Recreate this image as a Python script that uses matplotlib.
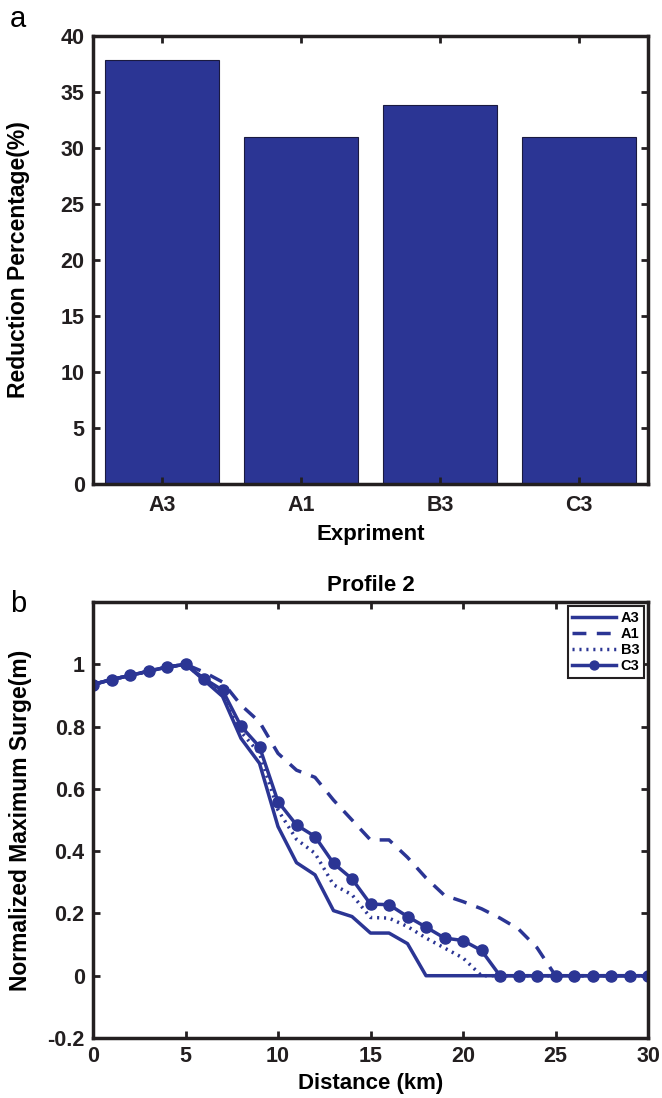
import matplotlib
matplotlib.use("Agg")
import matplotlib.pyplot as plt

plt.rcParams['font.family'] = ['Liberation Sans', 'DejaVu Sans']
plt.rcParams['font.weight'] = 'bold'
plt.rcParams['axes.labelweight'] = 'bold'
plt.rcParams['axes.titleweight'] = 'bold'

# bar chart data
experiments = ['A3', 'A1', 'B3', 'C3']
reduction = [37.9, 31.0, 33.8, 31.0]

# profile data
distance = list(range(0, 31))
a3 = [0.935, 0.951, 0.964, 0.978, 0.991, 1.0, 0.949, 0.897, 0.762, 0.682, 0.479,
      0.363, 0.324, 0.209, 0.19, 0.137, 0.137, 0.103, 0, 0, 0,
      0, 0, 0, 0, 0, 0, 0, 0, 0, 0]
a1 = [0.935, 0.951, 0.964, 0.978, 0.991, 1.0, 0.975, 0.943, 0.869, 0.815, 0.714,
      0.66, 0.637, 0.564, 0.5, 0.436, 0.436, 0.38, 0.314, 0.258, 0.238,
      0.215, 0.185, 0.15, 0.09, 0, 0, 0, 0, 0, 0]
b3 = [0.935, 0.951, 0.964, 0.978, 0.991, 1.0, 0.952, 0.905, 0.783, 0.714, 0.532,
      0.438, 0.393, 0.292, 0.26, 0.187, 0.185, 0.158, 0.121, 0.089, 0.057,
      0, 0, 0, 0, 0, 0, 0, 0, 0, 0]
c3 = [0.935, 0.951, 0.964, 0.978, 0.991, 1.0, 0.954, 0.917, 0.801, 0.735, 0.559,
      0.484, 0.447, 0.361, 0.311, 0.23, 0.228, 0.19, 0.156, 0.121, 0.113,
      0.081, 0, 0, 0, 0, 0, 0, 0, 0, 0]

blue = '#2B3594'
ink = '#231f20'
W, H = 662, 1098
fig = plt.figure(figsize=(W / 100, H / 100), dpi=100)

def style(ax):
    for s in ax.spines.values():
        s.set_linewidth(2.5)
        s.set_color(ink)
    ax.tick_params(direction='in', length=5, width=2, top=True, right=True,
                   labelsize=15.5, pad=6, colors=ink)

# panel a
ax1 = fig.add_axes([93 / W, 1 - 484 / H, 555 / W, 448 / H])
pos = range(1, len(experiments) + 1)
ax1.bar(pos, reduction, width=0.82, color=blue, edgecolor='#1a1a40', linewidth=0.8)
ax1.set_xlim(0.5, 4.5)
ax1.set_ylim(0, 40)
ax1.set_xticks(list(pos))
ax1.set_xticklabels(experiments)
ax1.set_yticks(range(0, 41, 5))
ax1.set_xlabel('Expriment', fontsize=16, labelpad=6)
ax1.set_ylabel('Reduction Percentage(%)', fontsize=16.5, labelpad=22)
style(ax1)
ax1.tick_params(axis='x', pad=8)
fig.text(10 / W, 1 - 27 / H, 'a', fontsize=21, fontweight='normal')

# panel b
ax2 = fig.add_axes([93 / W, 1 - 1038 / H, 555 / W, 436 / H])
ax2.plot(distance, a3, '-', color=blue, lw=2.5, label='A3')
ax2.plot(distance, a1, '--', color=blue, lw=2.5, label='A1', dashes=(4, 3))
ax2.plot(distance, b3, ':', color=blue, lw=2.5, label='B3', dashes=(0.6, 1.4))
ax2.plot(distance, c3, '-o', color=blue, lw=2.5, ms=8, label='C3')
ax2.set_xlim(0, 30)
ax2.set_ylim(-0.2, 1.2)
ax2.set_xticks(range(0, 31, 5))
ax2.set_yticks([-0.2, 0, 0.2, 0.4, 0.6, 0.8, 1])
ax2.set_yticklabels(['-0.2', '0', '0.2', '0.4', '0.6', '0.8', '1'])
ax2.set_xlabel('Distance (km)', fontsize=16, labelpad=4)
ax2.set_ylabel('Normalized Maximum Surge(m)', fontsize=16.5, labelpad=11)
ax2.set_title('Profile 2', fontsize=16, pad=8)
style(ax2)
leg = ax2.legend(loc='upper right', prop={'size': 10.5, 'weight': 'bold'},
                 handlelength=3, borderpad=0.3, labelspacing=0.15,
                 handletextpad=0.3, fancybox=False, borderaxespad=0.3,
                 markerscale=0.8, framealpha=1)
leg.get_frame().set_edgecolor(ink)
leg.get_frame().set_linewidth(1.5)
fig.text(10 / W, 1 - 612 / H, 'b', fontsize=21, fontweight='normal')

fig.savefig('out.png', dpi=100)
